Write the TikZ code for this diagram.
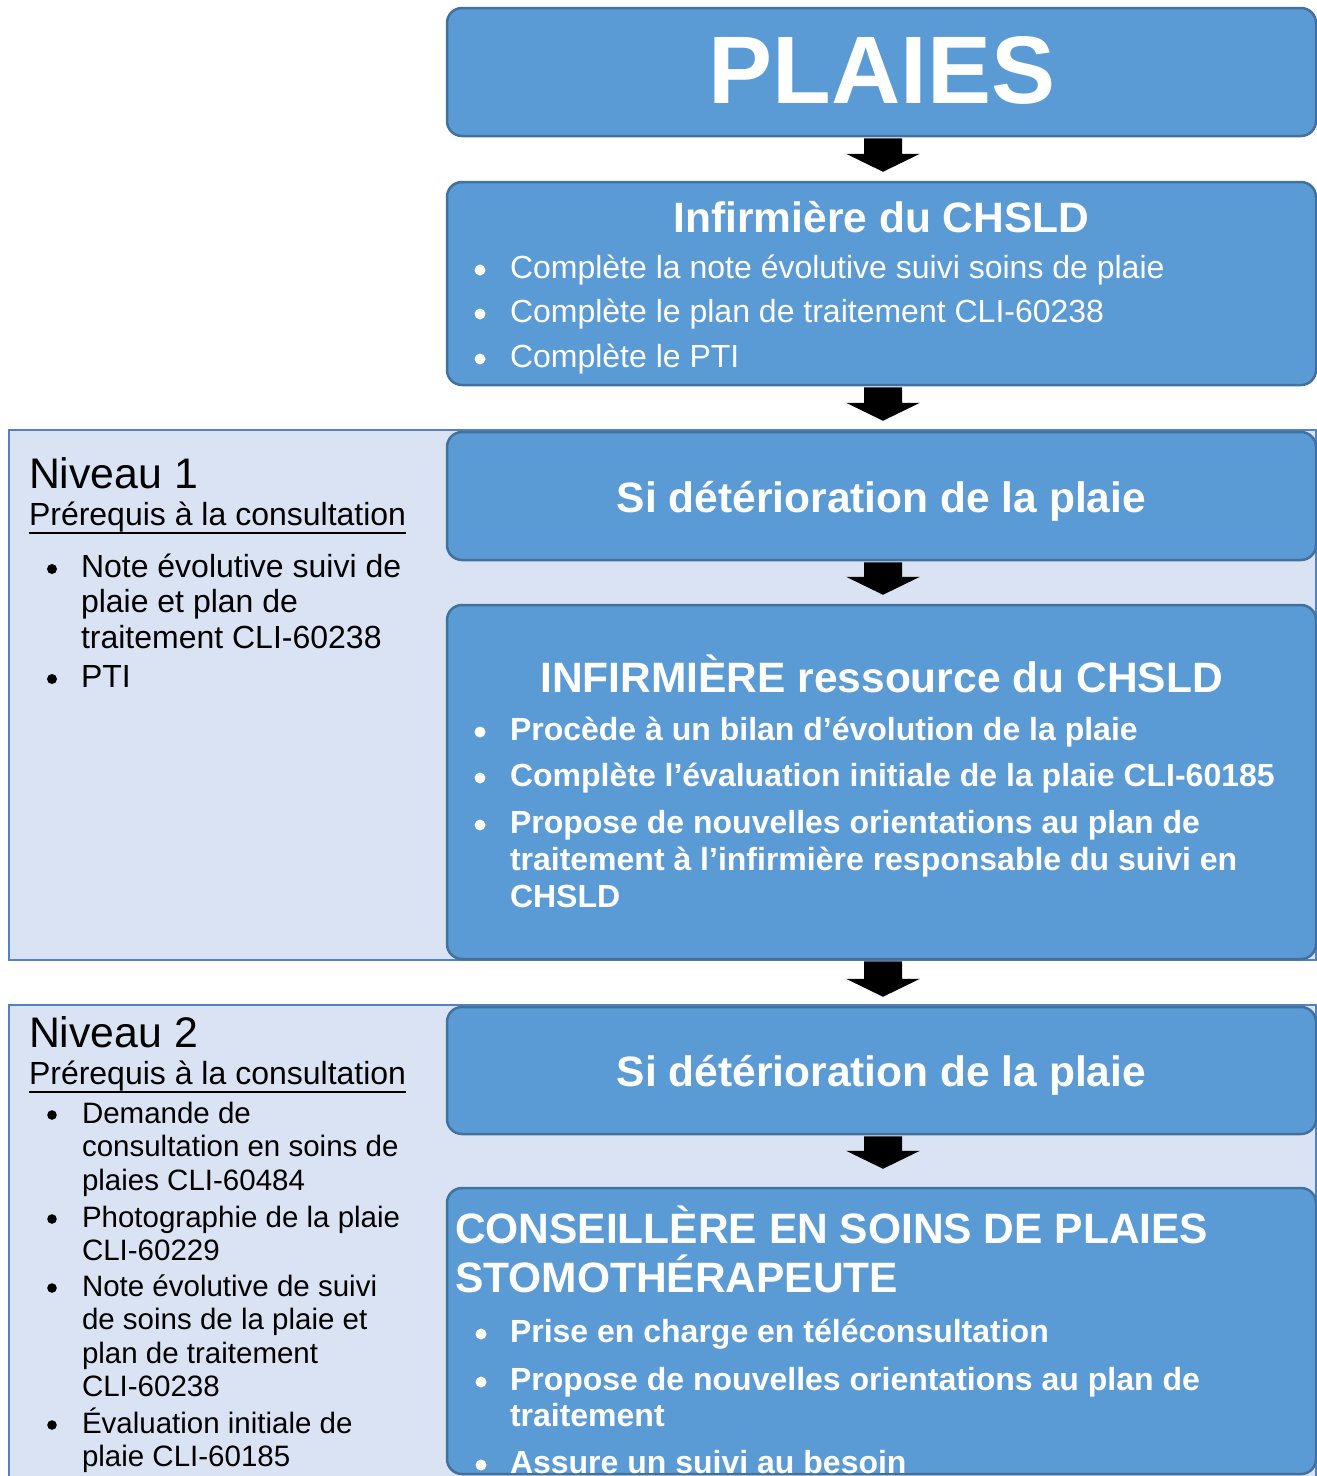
\documentclass[tikz,border=0pt]{standalone}
\usepackage{fontspec}
\setmainfont{Liberation Sans}
\usetikzlibrary{calc}
\definecolor{boxfill}{HTML}{5B9BD5}
\definecolor{boxline}{HTML}{41719C}
\definecolor{lvfill}{HTML}{DAE3F3}
\definecolor{lvline}{HTML}{5283BE}
\tikzset{
  box/.style={rectangle, draw=boxline, line width=2.5pt, fill=boxfill, rounded corners=15pt, inner sep=0pt, minimum width=869pt},
  lvl/.style={rectangle, draw=lvline, line width=2pt, fill=lvfill, inner sep=0pt, minimum width=1307pt},
  txt/.style={inner sep=0pt, outer sep=0pt},
  wtitle/.style={txt, anchor=base, text=white, font=\fontsize{42.5}{49}\selectfont\bfseries},
  wbul/.style={txt, anchor=base west, text=white, font=\fontsize{32}{37}\selectfont},
  wbbul/.style={txt, anchor=base west, text=white, font=\fontsize{32}{37}\selectfont\bfseries},
  lhead/.style={txt, anchor=base west, text=black, font=\fontsize{42.8}{48}\selectfont},
  lsub/.style={txt, anchor=base west, text=black, font=\fontsize{32}{36}\selectfont},
  lbul1/.style={txt, anchor=base west, text=black, font=\fontsize{32}{35.5}\selectfont},
  lbul2/.style={txt, anchor=base west, text=black, font=\fontsize{29.5}{33.6}\selectfont},
  bigarrow/.style={fill=black},
}
\newcommand{\lines}[1]{\parbox[t]{1000pt}{#1}}
% block arrow from bottom of #1 to top of #2, tip #3 pt above #2
\newcommand{\blockarrow}[3]{%
  \path let \p1=(#1.south), \p2=(#2.north) in
    [bigarrow] ({\x1+1.5pt-19pt},{\y1-1pt}) -- ({\x1+1.5pt+19pt},{\y1-1pt})
    -- ({\x1+1.5pt+19pt},{\y2+#3pt+18pt}) -- ({\x1+1.5pt+37pt},{\y2+#3pt+18pt})
    -- ({\x1+1.5pt},{\y2+#3pt})
    -- ({\x1+1.5pt-37pt},{\y2+#3pt+18pt}) -- ({\x1+1.5pt-19pt},{\y2+#3pt+18pt}) -- cycle;}
\begin{document}
\begin{tikzpicture}[x=1pt,y=-1pt]
\useasboundingbox (0,0) rectangle (1317,1476);
\fill[white] (0,0) rectangle (1317,1476);

% level backgrounds
\node[lvl, minimum height=530pt] (lv1) at (662.5,695) {};
\node[lvl, minimum height=475pt] (lv2) at (662.5,1242.5) {};

% boxes
\node[box, minimum height=128pt] (b0) at (881.5,72) {};
\node[box, minimum height=203pt] (b1) at (881.5,283.5) {};
\node[box, minimum height=128pt] (b2) at (881.5,496) {};
\node[box, minimum height=354pt] (b3) at (881.5,782) {};
\node[box, minimum height=127pt] (b4) at (881.5,1070.5) {};
\node[box, minimum height=286pt] (b5) at (881.5,1331) {};

% arrows
\blockarrow{b0}{b1}{9}
\blockarrow{b1}{b2}{10}
\blockarrow{b2}{b3}{9}
\blockarrow{b3}{b4}{9}
\blockarrow{b4}{b5}{18}

% box 0
\node[txt, anchor=base, text=white, font=\fontsize{96}{96}\selectfont\bfseries] (t0) at (882,103) {PLAIES};

% box 1
\node[wtitle] (t1) at (881.5,232) {Infirmière du CHSLD};
\node[wbul] (t1a) at (510,278) {Complète la note évolutive suivi soins de plaie};
\node[wbul] (t1b) at (510,322) {Complète le plan de traitement CLI-60238};
\node[wbul] (t1c) at (510,367) {Complète le PTI};
\foreach \y in {278,322,367} \fill[white] (480,\y-8) circle (5.5pt);

% box 2
\node[wtitle] (t2) at (881.5,512) {Si détérioration de la plaie};

% box 3
\node[wtitle] (t3) at (881.5,692) {INFIRMIÈRE ressource du CHSLD};
\node[wbbul] (t3a) at (510,740) {Procède à un bilan d’évolution de la plaie};
\node[wbbul] (t3b) at (510,786) {Complète l’évaluation initiale de la plaie CLI-60185};
\node[wbbul] (t3c) at (510,833) {\lines{Propose de nouvelles orientations au plan de\\traitement à l’infirmière responsable du suivi en\\CHSLD}};
\foreach \y in {740,786,833} \fill[white] (480,\y-8) circle (5.5pt);

% box 4
\node[wtitle] (t4) at (881.5,1086) {Si détérioration de la plaie};

% box 5
\node[txt, anchor=base west, text=white, font=\fontsize{42.5}{49}\selectfont\bfseries] (t5) at (455,1243) {\lines{CONSEILLÈRE EN SOINS DE PLAIES\\STOMOTHÉRAPEUTE}};
\node[wbbul] (t5a) at (510,1342) {Prise en charge en téléconsultation};
\node[wbbul, font=\fontsize{32}{36}\selectfont\bfseries] (t5b) at (510,1390) {\lines{Propose de nouvelles orientations au plan de\\traitement}};
\node[wbbul] (t5c) at (510,1473) {Assure un suivi au besoin};
\foreach \y in {1342,1390,1473} \fill[white] (481,\y-8) circle (5.5pt);

% level 1 text
\node[lhead] (n1) at (29,488) {Niveau 1};
\node[lsub] (p1) at (29,525) {Prérequis à la consultation};
\draw[line width=2.2pt] ($(p1.base west)+(0,8)$) -- ($(p1.base east)+(0,8)$);
\node[lbul1] (n1a) at (81,577) {\lines{Note évolutive suivi de\\plaie et plan de\\traitement CLI-60238}};
\node[lbul1] (n1b) at (81,687) {PTI};
\foreach \y in {577,687} \fill[black] (52,\y-8) circle (5pt);

% level 2 text
\node[lhead] (n2) at (29,1047) {Niveau 2};
\node[lsub] (p2) at (29,1084) {Prérequis à la consultation};
\draw[line width=2.2pt] ($(p2.base west)+(0,8)$) -- ($(p2.base east)+(0,8)$);
\node[lbul2] (n2a) at (82,1123) {\lines{Demande de\\consultation en soins de\\plaies CLI-60484}};
\node[lbul2] (n2b) at (82,1227) {\lines{Photographie de la plaie\\CLI-60229}};
\node[lbul2] (n2c) at (82,1296) {\lines{Note évolutive de suivi\\de soins de la plaie et\\plan de traitement\\CLI-60238}};
\node[lbul2] (n2d) at (82,1433) {\lines{Évaluation initiale de\\plaie CLI-60185}};
\foreach \y in {1123,1227,1296,1433} \fill[black] (52,\y-8) circle (4.8pt);
\end{tikzpicture}
\end{document}
